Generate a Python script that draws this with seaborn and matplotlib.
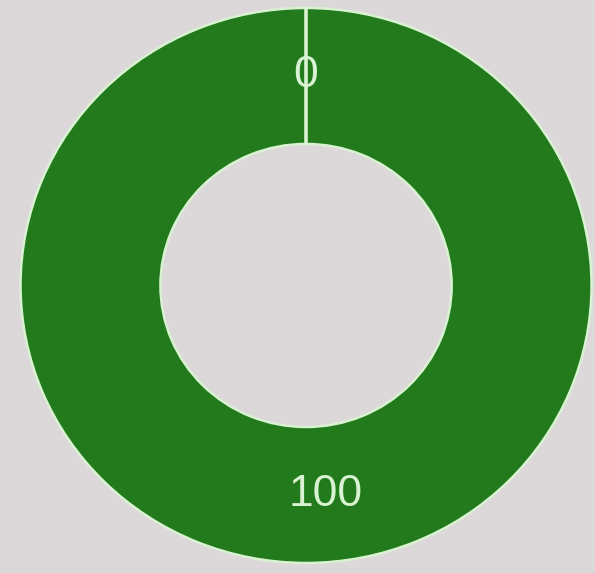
import matplotlib
matplotlib.use("Agg")
import matplotlib.pyplot as plt
import numpy as np
import seaborn as sns

# Donut data: two segments, one empty and one full
categories = ["A", "B"]
values = [0, 100]
value_labels = ["0", "100"]

sns.set_theme(style="white")
plt.rcParams["font.family"] = ["Liberation Sans", "DejaVu Sans"]

bg = "#dcd8d9"
ring = "#237a1c"
light = "#d8f2d2"

fig = plt.figure(figsize=(5.95, 5.73), dpi=100, facecolor=bg)
ax = fig.add_axes([0.0345, 0.0175, 0.9597, 0.9686])
ax.set_facecolor(bg)

inner = 0.51
wedges, texts = ax.pie(
    values,
    labels=value_labels,
    colors=[ring, ring],
    startangle=90,
    counterclock=False,
    radius=1.0,
    labeldistance=(1 + inner) / 2,
    wedgeprops=dict(width=1 - inner, edgecolor=light, linewidth=1.8),
    textprops=dict(color=light, fontsize=32, ha="center", va="center"),
    normalize=True,
)

# Boundary of the empty segment: a radial stroke across the ring
for w in wedges:
    if w.theta2 - w.theta1 == 0:
        a = np.deg2rad(w.theta1)
        ax.plot([inner * np.cos(a), np.cos(a)], [inner * np.sin(a), np.sin(a)],
                color=light, lw=2.6, solid_capstyle="butt", zorder=3)

# Slight placement offsets for the value labels
offsets = [(0.0, 0.0), (0.07, 0.0)]
for t, (dx, dy) in zip(texts, offsets):
    x, y = t.get_position()
    t.set_position((x + dx, y + dy))
    t.set_horizontalalignment("center")
    t.set_verticalalignment("center")
    t.set_zorder(4)

ax.set_aspect("auto")
ax.set_xlim(-1, 1)
ax.set_ylim(-1, 1)
ax.axis("off")

fig.savefig("out.png", dpi=100, facecolor=bg)
